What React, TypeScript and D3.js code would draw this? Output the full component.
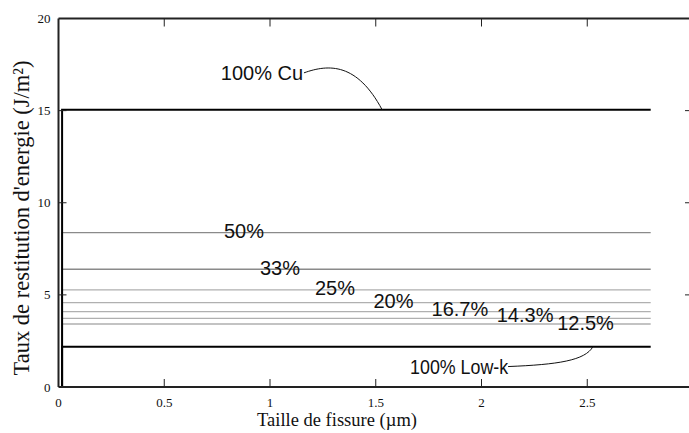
import React from "react";
import * as d3 from "d3";

// ---- data ----
const seriesNames = ["100% Cu", "50%", "33%", "25%", "20%", "16.7%", "14.3%", "12.5%", "100% Low-k"];
const energyRelease = [15.05, 8.38, 6.39, 5.27, 4.58, 4.09, 3.73, 3.42, 2.19];
const seriesKind = ["pure", "mix", "mix", "mix", "mix", "mix", "mix", "mix", "pure"];
const crackStart = 0.017;
const crackEnd = 2.8;
const xTicks = [0, 0.5, 1, 1.5, 2, 2.5];
const xTickLabels = ["0", "0.5", "1", "1.5", "2", "2.5"];
const yTicks = [0, 5, 10, 15, 20];
const yTickLabels = ["0", "5", "10", "15", "20"];
// label anchor positions (data coords: crack size µm, energy J/m²)
const labelA = [0.962, 0.877, 1.047, 1.307, 1.584, 1.898, 2.206, 2.492, 1.894];
const labelG = [17.05, 8.46, 6.47, 5.4, 4.66, 4.21, 3.9, 3.48, 1.11];

const W = 689;
const H = 433;

export default function App() {
  const x = d3.scaleLinear().domain([0, 3]).range([58.5, 693]);
  const y = d3.scaleLinear().domain([0, 20]).range([387, 18.5]);

  const line = d3
    .line<[number, number]>()
    .x((d) => x(d[0]))
    .y((d) => y(d[1]));

  const series = seriesNames.map((name, i) => ({
    name,
    kind: seriesKind[i],
    pts: [
      [crackStart, 0],
      [crackStart, energyRelease[i]],
      [crackEnd, energyRelease[i]],
    ] as [number, number][],
  }));

  const greyColor = (i: number) => (i <= 2 ? "#8a8a8a" : "#b0b0b0");

  const serif = "'Liberation Serif', 'Times New Roman', serif";
  const sans = "'Liberation Sans', Arial, sans-serif";

  // connector curves for the pure-material labels
  const cuStart: [number, number] = [x(labelA[0]) + 42, y(labelG[0])];
  const cuEnd: [number, number] = [x(1.53), y(energyRelease[0])];
  const lkStart: [number, number] = [x(labelA[8]) + 49, y(labelG[8])];
  const lkEnd: [number, number] = [x(2.527), y(energyRelease[8])];

  const cuPath = `M${cuStart[0]},${cuStart[1]} C${cuStart[0] + 25},${cuStart[1] - 9} ${cuEnd[0] - 25},${cuStart[1] - 10} ${cuEnd[0]},${cuEnd[1]}`;
  const lkPath = `M${lkStart[0]},${lkStart[1]} C${lkStart[0] + 50},${lkStart[1] - 2} ${lkEnd[0] - 8},${lkStart[1] - 6} ${lkEnd[0]},${lkEnd[1]}`;

  return (
    <svg
      width={W}
      height={H}
      style={{ position: "absolute", left: 0, top: 0, background: "#fff" }}
    >
      <rect x={0} y={0} width={W} height={H} fill="#fff" />
      {/* grey mixture lines */}
      {series
        .map((s, i) => ({ s, i }))
        .filter(({ s }) => s.kind === "mix")
        .map(({ s, i }) => (
          <path key={s.name} d={line(s.pts) || ""} fill="none" stroke={greyColor(i)} strokeWidth={1.3} />
        ))}
      {/* black pure lines */}
      {series
        .filter((s) => s.kind === "pure")
        .map((s) => (
          <path key={s.name} d={line(s.pts) || ""} fill="none" stroke="#000" strokeWidth={2} />
        ))}

      {/* frame */}
      <line x1={x(0)} x2={W + 5} y1={y(0)} y2={y(0)} stroke="#222" strokeWidth={2} />
      <line x1={x(0)} x2={W + 5} y1={y(20)} y2={y(20)} stroke="#222" strokeWidth={2} />
      <line x1={x(0)} x2={x(0)} y1={y(0)} y2={y(20)} stroke="#222" strokeWidth={2} />
      <line x1={x(3)} x2={x(3)} y1={y(0)} y2={y(20)} stroke="#222" strokeWidth={2} />

      {/* x ticks */}
      {xTicks.map((t, i) => (
        <g key={"xt" + i}>
          {t > 0 && <line x1={x(t)} x2={x(t)} y1={y(0)} y2={y(0) - 8} stroke="#222" strokeWidth={1} />}
          {t > 0 && <line x1={x(t)} x2={x(t)} y1={y(20)} y2={y(20) + 8} stroke="#222" strokeWidth={1} />}
          <text x={x(t)} y={y(0) + 20} textAnchor="middle" fontFamily={serif} fontSize={13} fill="#111">
            {xTickLabels[i]}
          </text>
        </g>
      ))}
      {/* y ticks */}
      {yTicks.map((t, i) => (
        <g key={"yt" + i}>
          {t > 0 && t < 20 && <line x1={x(0)} x2={x(0) + 8} y1={y(t)} y2={y(t)} stroke="#222" strokeWidth={1} />}
          {t > 0 && t < 20 && <line x1={x(3)} x2={x(3) - 8} y1={y(t)} y2={y(t)} stroke="#222" strokeWidth={1} />}
          <text x={x(0) - 8} y={y(t)} dy="0.35em" textAnchor="end" fontFamily={serif} fontSize={13} fill="#111">
            {yTickLabels[i]}
          </text>
        </g>
      ))}

      {/* axis titles */}
      <text x={337} y={426} textAnchor="middle" fontFamily={serif} fontSize={18.5} fill="#111">
        Taille de fissure (µm)
      </text>
      <text
        transform={`translate(29,218) rotate(-90)`}
        textAnchor="middle"
        fontFamily={serif}
        fontSize={22.5}
        fill="#111"
      >
        Taux de restitution d'energie (J/m²)
      </text>

      {/* labels */}
      {seriesNames.map((n, i) => (
        <text
          key={"lb" + i}
          x={x(labelA[i])}
          y={y(labelG[i])}
          dy="0.35em"
          textAnchor="middle"
          fontFamily={sans}
          fontSize={20}
          fill="#111"
          {...(i === seriesNames.length - 1 ? { textLength: 98, lengthAdjust: "spacingAndGlyphs" } : {})}
        >
          {n}
        </text>
      ))}
      <path d={cuPath} fill="none" stroke="#111" strokeWidth={1} />
      <path d={lkPath} fill="none" stroke="#111" strokeWidth={1} />
    </svg>
  );
}
